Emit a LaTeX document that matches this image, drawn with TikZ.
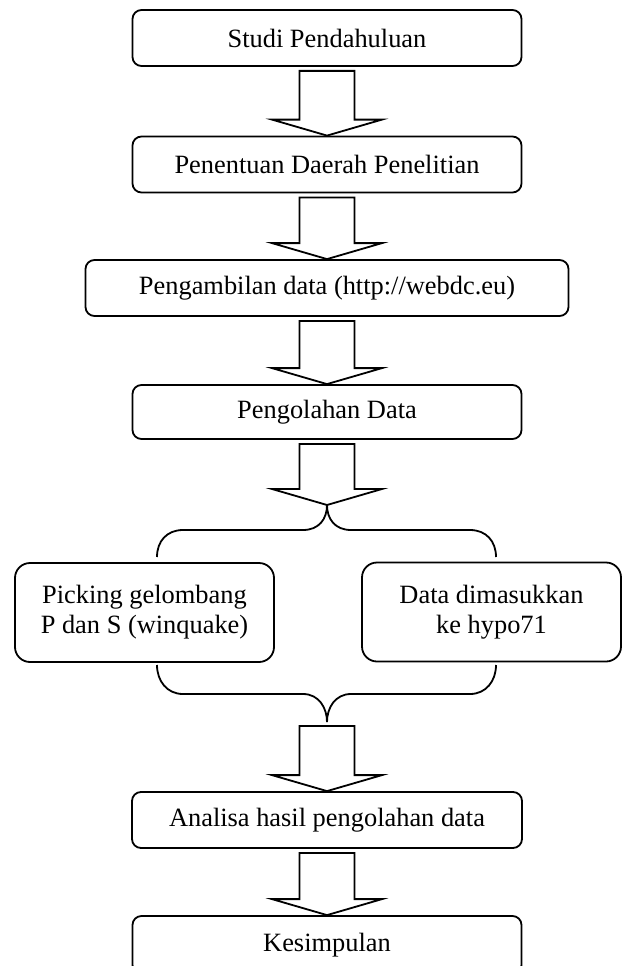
\documentclass[tikz,border=0pt]{standalone}
\usepackage{fontspec}
\setmainfont{Liberation Serif}
\usetikzlibrary{calc}
\tikzset{
  stepbox/.style={draw, line width=1.8pt, rounded corners=9pt, inner sep=0pt,
    minimum height=56pt, align=center, font=\fontsize{26.4}{30}\selectfont},
  sidebox/.style={stepbox, rounded corners=15pt, minimum width=259pt, minimum height=99pt},
  blockarrow/.style={draw, line width=1.8pt, line join=miter},
  brace/.style={draw, line width=1.8pt}
}
% hollow block arrow from #1 (start point) to #2 (tip)
\newcommand{\fatarrow}[2]{%
  \draw[blockarrow] ($#1+(-27.5,4)$) -- ($#2+(-27.5,-16)$) -- ($#2+(-55,-16)$) -- #2
    -- ($#2+(55,-16)$) -- ($#2+(27.5,-16)$) -- ($#1+(27.5,4)$) -- cycle;}

\begin{document}
\begin{tikzpicture}[x=1pt,y=-1pt]
    \clip (0,0) rectangle (623,966);
    % main steps
    \node[stepbox, minimum width=389pt] (studi) at (327,38) {Studi Pendahuluan};
    \node[stepbox, minimum width=389pt] (daerah) at (327,164.5) {Penentuan Daerah Penelitian};
    \node[stepbox, minimum width=483pt] (ambil) at (327,288) {Pengambilan data (http://webdc.eu)};
    \node[stepbox, minimum width=389pt, minimum height=54pt] (olah) at (327,412) {Pengolahan Data};
    \node[sidebox] (picking) at (144.5,612.5) {Picking gelombang\\P dan S (winquake)};
    \node[sidebox] (hypo) at (491.5,612) {Data dimasukkan\\ke hypo71};
    \node[stepbox, minimum width=390pt] (analisa) at (327,820) {Analisa hasil pengolahan data};
    \node[stepbox, minimum width=389pt, minimum height=58pt] (simpul) at (327,945) {Kesimpulan};
    % brace ends
    \coordinate (split) at (327,505);
    \coordinate (join) at (327,722);
    \coordinate (pickin) at (157,557);
    \coordinate (pickout) at (157,665);
    \coordinate (hypoin) at (496,557);
    \coordinate (hypoout) at (496,665);
    % arrows
    \fatarrow{(studi.south)}{(daerah.north)}
    \fatarrow{(daerah.south)}{(ambil.north)}
    \fatarrow{(ambil.south)}{(olah.north)}
    \fatarrow{(olah.south)}{(split)}
    \fatarrow{(join)}{(analisa.north)}
    \fatarrow{(analisa.south)}{(simpul.north)}
    % braces
    \draw[brace] (pickin) .. controls +(0,-16) and +(-16,0) .. (183,530) -- (303,530)
        .. controls +(16,0) and +(0,14) .. (split);
    \draw[brace] (hypoin) .. controls +(0,-16) and +(16,0) .. (470,530) -- (351,530)
        .. controls +(-16,0) and +(0,14) .. (split);
    \draw[brace] (pickout) .. controls +(0,16) and +(-16,0) .. (183,694) -- (303,694)
        .. controls +(16,0) and +(0,-14) .. (join);
    \draw[brace] (hypoout) .. controls +(0,16) and +(16,0) .. (470,694) -- (351,694)
        .. controls +(-16,0) and +(0,-14) .. (join);
\end{tikzpicture}
\end{document}
